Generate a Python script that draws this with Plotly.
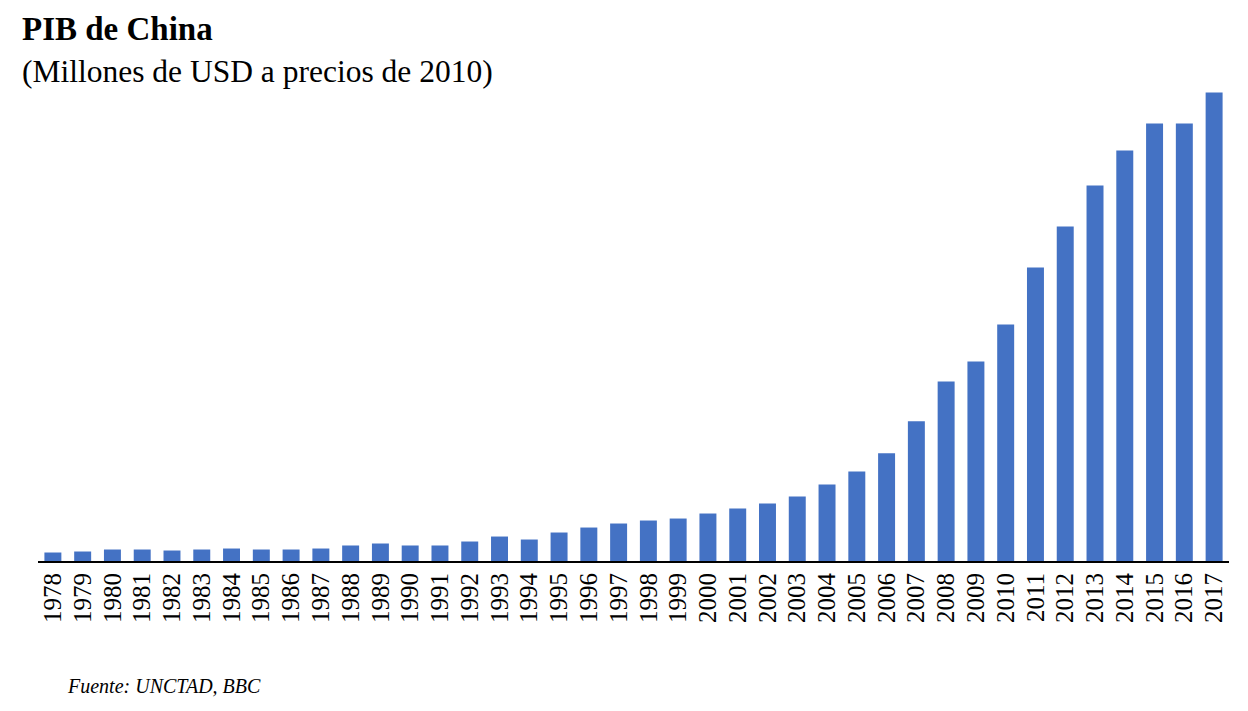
import plotly.graph_objects as go

years = [str(y) for y in range(1978, 2018)]
gdp_millions = [
    222000, 248000, 300000, 300000, 274000, 300000, 326000, 300000, 300000, 326000,
    405000, 457000, 405000, 405000, 509000, 639000, 561000, 744000, 874000, 979000,
    1057000, 1109000, 1240000, 1370000, 1501000, 1683000, 1997000, 2336000, 2811000, 3646000,
    4690000, 5212000, 6178000, 7666000, 8736000, 9806000, 10719000, 11424000, 11424000, 12233000,
]

title_text = "<b>PIB de China</b>"
subtitle_text = "(Millones de USD a precios de 2010)"
source_text = "<i>Fuente: UNCTAD, BBC</i>"

FONT = "Liberation Serif"

fig = go.Figure(
    go.Bar(
        x=years,
        y=gdp_millions,
        marker=dict(color="#4472C4", line=dict(width=0)),
        hoverinfo="x+y",
    )
)

fig.update_layout(
    width=1240,
    height=703,
    margin=dict(l=30, r=19, t=72, b=150),
    paper_bgcolor="white",
    plot_bgcolor="white",
    bargap=0.43,
    showlegend=False,
    font=dict(family=FONT, color="black"),
    xaxis=dict(
        type="category",
        tickmode="array",
        tickvals=years,
        ticktext=years,
        tickangle=-90,
        tickfont=dict(family=FONT, size=25, color="black"),
        showline=True,
        linecolor="black",
        linewidth=2,
        ticks="",
        showgrid=False,
        zeroline=False,
        fixedrange=True,
    ),
    yaxis=dict(
        visible=False,
        range=[0, 12560000],
        showgrid=False,
        zeroline=False,
        fixedrange=True,
    ),
    annotations=[
        dict(text=title_text, xref="paper", yref="paper", x=-0.0151, y=1.148,
             xanchor="left", yanchor="top", showarrow=False,
             font=dict(family=FONT, size=33, color="black")),
        dict(text=subtitle_text, xref="paper", yref="paper", x=-0.0151, y=1.058,
             xanchor="left", yanchor="top", showarrow=False,
             font=dict(family=FONT, size=31.5, color="black")),
        dict(text=source_text, xref="paper", yref="paper", x=0.0227, y=-0.26,
             xanchor="left", yanchor="middle", showarrow=False,
             font=dict(family=FONT, size=20, color="black")),
    ],
)

fig.write_html("out.html")
